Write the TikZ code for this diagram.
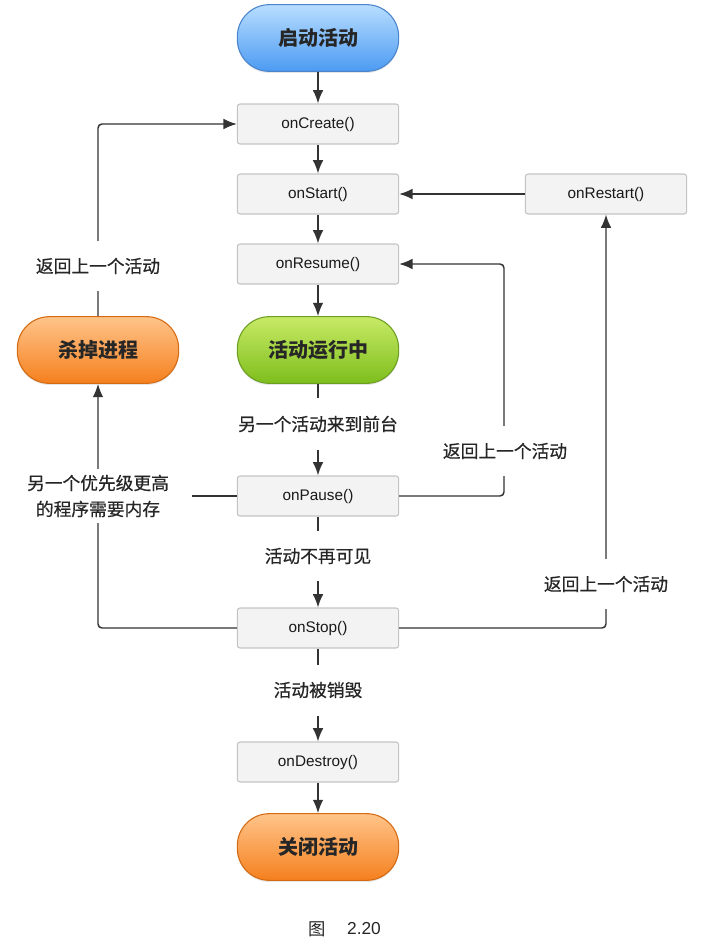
\documentclass[tikz,border=0pt]{standalone}
\usepackage{fontspec}
\setmainfont{Liberation Sans}
\newfontfamily\cjk{Noto Sans CJK SC}
\newfontfamily\cjkl[FakeBold=0.5]{Noto Sans CJK SC}
\usetikzlibrary{arrows.meta,shadows}
\definecolor{boxfill}{HTML}{F3F3F3}
\definecolor{boxline}{HTML}{C4C4C4}
\definecolor{linec}{HTML}{333333}
\definecolor{bluetop}{HTML}{B8DDFF}
\definecolor{bluebot}{HTML}{4C9BF2}
\definecolor{blueline}{HTML}{4A84CC}
\definecolor{greentop}{HTML}{C8EA66}
\definecolor{greenbot}{HTML}{7DBE1C}
\definecolor{greenline}{HTML}{6C9E22}
\definecolor{orangetop}{HTML}{FFC48A}
\definecolor{orangebot}{HTML}{F5801E}
\definecolor{orangeline}{HTML}{D46A12}
\tikzset{
  box/.style={draw=boxline, fill=boxfill, rounded corners=2pt, line width=0.8pt,
    minimum width=121pt, minimum height=30pt, inner sep=0pt,
    text height=9pt, text depth=2.5pt,
    text=black!90, font=\fontsize{11.5}{13}\selectfont},
  pill/.style={rounded corners=24pt, line width=0.8pt, minimum width=121pt,
    minimum height=50pt, inner sep=0pt, text=black!85,
    font=\cjk\bfseries\fontsize{15}{17}\selectfont,
    drop shadow={opacity=0.2, shadow xshift=0pt, shadow yshift=-1.2pt}},
  bluepill/.style={pill, draw=blueline, top color=bluetop, bottom color=bluebot},
  greenpill/.style={pill, draw=greenline, top color=greentop, bottom color=greenbot},
  orangepill/.style={pill, draw=orangeline, top color=orangetop, bottom color=orangebot},
  lbl/.style={fill=white, inner xsep=4pt, inner ysep=13pt, text=black!85,
    font=\cjkl\fontsize{13.3}{19.5}\selectfont},
  conn/.style={draw=linec, line width=1.1pt, rounded corners=3pt},
  arr/.style={conn, -{Latex[length=10pt,width=8pt]}}
}
\begin{document}
\begin{tikzpicture}[x=0.75pt,y=-0.75pt]
\useasboundingbox (0,0) rectangle (701,939);
% nodes
\node[bluepill] (start) at (318,38) {启动活动};
\node[box] (create) at (318,124) {onCreate()};
\node[box] (onstart) at (318,194) {onStart()};
\node[box] (restart) at (606,194) {onRestart()};
\node[box] (resume) at (318,264) {onResume()};
\node[greenpill] (running) at (318,350) {活动运行中};
\node[orangepill] (kill) at (98,350) {杀掉进程};
\node[box] (pause) at (318,496) {onPause()};
\node[box] (stop) at (318,628) {onStop()};
\node[box] (destroy) at (318,762) {onDestroy()};
\node[orangepill] (close) at (318,847) {关闭活动};
% corner coordinates
\coordinate (klt) at (98,124);
\coordinate (kpl) at (98,496);
\coordinate (sbl) at (98,628);
\coordinate (pr) at (504,496);
\coordinate (rr) at (504,264);
\coordinate (sr) at (606,628);
% straight arrows
\draw[arr] (start) -- (create);
\draw[arr] (create) -- (onstart);
\draw[arr] (onstart) -- (resume);
\draw[arr] (resume) -- (running);
\draw[arr] (running) -- (pause);
\draw[arr] (pause) -- (stop);
\draw[arr] (stop) -- (destroy);
\draw[arr] (destroy) -- (close);
\draw[arr] (restart) -- (onstart);
% loops
\draw[arr] (kill.north) -- (klt) -- (create.west);
\draw[arr] (stop.west) -- (sbl) -- (kill.south);
\draw[conn] (pause.west) -- (kpl);
\draw[arr] (pause.east) -- (pr) -- (rr) -- (resume.east);
\draw[arr] (stop.east) -- (sr) -- (restart.south);
% labels
\node[lbl] (l1) at (98,266) {返回上一个活动};
\node[lbl] (l2) at (318,424) {另一个活动来到前台};
\node[lbl] (l3) at (505,451) {返回上一个活动};
\node[lbl, align=center, inner xsep=17pt, inner ysep=4pt] (l4) at (98,496) {另一个优先级更高\\的程序需要内存};
\node[lbl] (l5) at (318,556) {活动不再可见};
\node[lbl] (l6) at (606,584) {返回上一个活动};
\node[lbl] (l7) at (318,690) {活动被销毁};
% caption
\node[text=black!85, font=\cjk\fontsize{13}{15}\selectfont] (cap1) at (317,929) {图};
\node[text=black!85, font=\fontsize{13}{15}\selectfont] (cap2) at (364,929) {2.20};
\end{tikzpicture}
\end{document}
